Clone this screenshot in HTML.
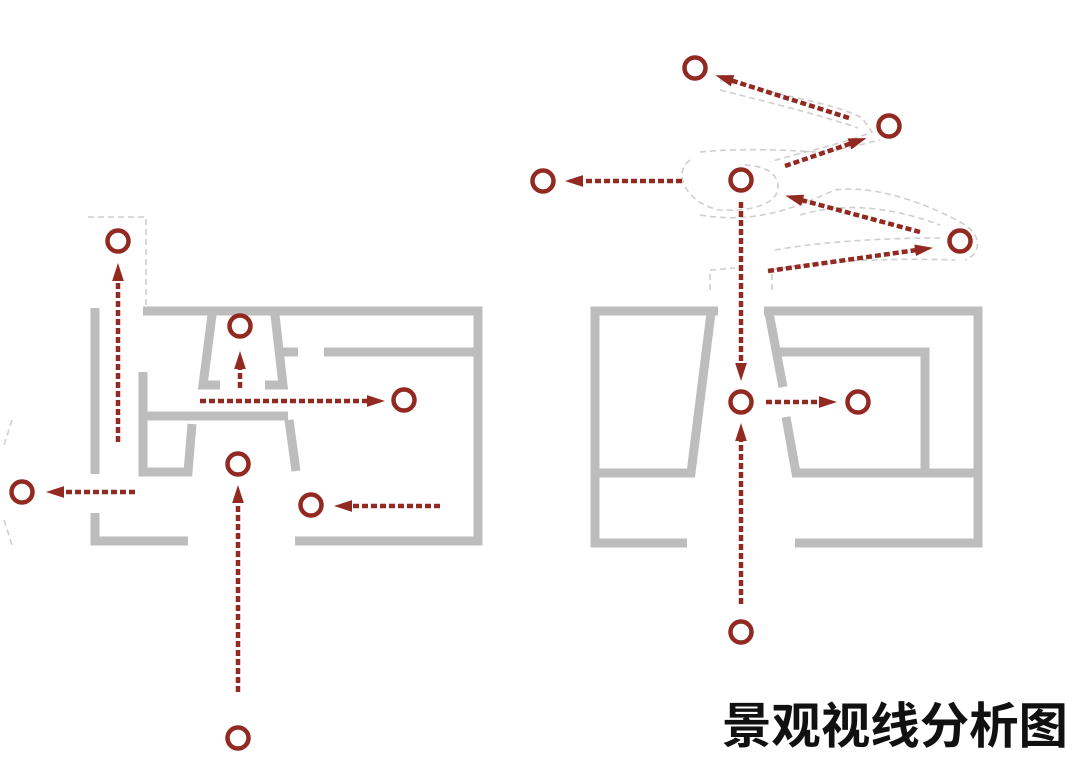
<!DOCTYPE html>
<html><head><meta charset="utf-8"><style>
html,body{margin:0;padding:0;background:#fff;}
svg{display:block;}
</style></head><body>
<svg width="1080" height="772" viewBox="0 0 1080 772" xmlns="http://www.w3.org/2000/svg">
<defs>
<marker id="ah" markerWidth="4" markerHeight="4" refX="2" refY="2" orient="auto" markerUnits="strokeWidth">
<path d="M0,0.7 L4,2 L0,3.3 Z" fill="#922a22"/>
</marker>
</defs>
<rect width="1080" height="772" fill="#fff"/>
<g fill="none" stroke="#cfcfcf" stroke-width="1.6" stroke-dasharray="6 4">
<path d="M88,217 H146 V305"/>
<path d="M12,420 L4,445 M4,520 L12,545"/>
<path d="M720,80 C780,95 840,105 862,118 L872,132 C840,145 790,155 770,162"/>
<path d="M720,90 C780,105 830,118 858,128"/>
<path d="M700,152 C740,148 790,150 815,152 C840,150 860,145 880,140"/>
<path d="M690,160 C670,175 690,205 720,210 C760,212 780,200 778,185 C776,170 760,165 740,165"/>
<path d="M700,215 C760,225 800,205 835,190 C870,185 920,200 960,222 C985,235 980,255 965,260"/>
<path d="M800,215 C850,200 900,210 940,225"/>
<path d="M775,250 C830,240 900,238 940,238"/>
<path d="M710,290 V270 L735,268 M772,290 V270 C820,260 900,258 955,260"/>
</g>
<g fill="none" stroke="#bdbdbd" stroke-width="9" stroke-linecap="butt">
<path d="M95,308 V474"/>
<path d="M95,513 V541 H188"/>
<path d="M143,311 H478 V541 H295"/>
<path d="M279,352 H298"/>
<path d="M324,352 H478"/>
<path d="M212,315 L203,385 H220"/>
<path d="M275,315 L283,385 H265"/>
<path d="M143,372 V472 H188 L192,424"/>
<path d="M143,416 H288"/>
<path d="M289,420 L296,471"/>
<path d="M718,311 H595 V543 H687"/>
<path d="M595,473 H691 L711,313"/>
<path d="M764,311 H978 V543 H795"/>
<path d="M769,313 L783,387"/>
<path d="M786,417 L796,473 H978"/>
<path d="M780,352 H925 V473"/>
</g>
<g fill="none" stroke="#922a22" stroke-width="4.5" stroke-dasharray="6 3" marker-end="url(#ah)">
<path d="M118,442 V272"/>
<path d="M240,388 V360"/>
<path d="M200,401 H376"/>
<path d="M135,492 H55"/>
<path d="M440,506 H343"/>
<path d="M238,692 V494"/>
<path d="M741,202 V372"/>
<path d="M741,604 V432"/>
<path d="M766,402 H828"/>
<path d="M682,181 H574"/>
<path d="M849,118 L724,78"/>
<path d="M785,166 L858,141"/>
<path d="M920,232 L794,198"/>
<path d="M768,271 L924,249"/>
</g>
<g fill="none" stroke="#922a22" stroke-width="4.5">
<circle cx="118" cy="241" r="10.5"/>
<circle cx="240" cy="326" r="10.5"/>
<circle cx="404" cy="400" r="10.5"/>
<circle cx="238" cy="464" r="10.5"/>
<circle cx="22" cy="492" r="10.5"/>
<circle cx="311" cy="505" r="10.5"/>
<circle cx="238" cy="738" r="10.5"/>
<circle cx="741" cy="402" r="10.5"/>
<circle cx="858" cy="402" r="10.5"/>
<circle cx="741" cy="632" r="10.5"/>
<circle cx="695" cy="68" r="10.5"/>
<circle cx="889" cy="126" r="10.5"/>
<circle cx="543" cy="181" r="10.5"/>
<circle cx="741" cy="180" r="10.5"/>
<circle cx="960" cy="241" r="10.5"/>
</g>
<text x="722" y="743" font-family="'Liberation Sans','Noto Sans CJK SC',sans-serif" font-size="49" font-weight="bold" fill="#111" textLength="346" lengthAdjust="spacingAndGlyphs">景观视线分析图</text>
</svg>
</body></html>
